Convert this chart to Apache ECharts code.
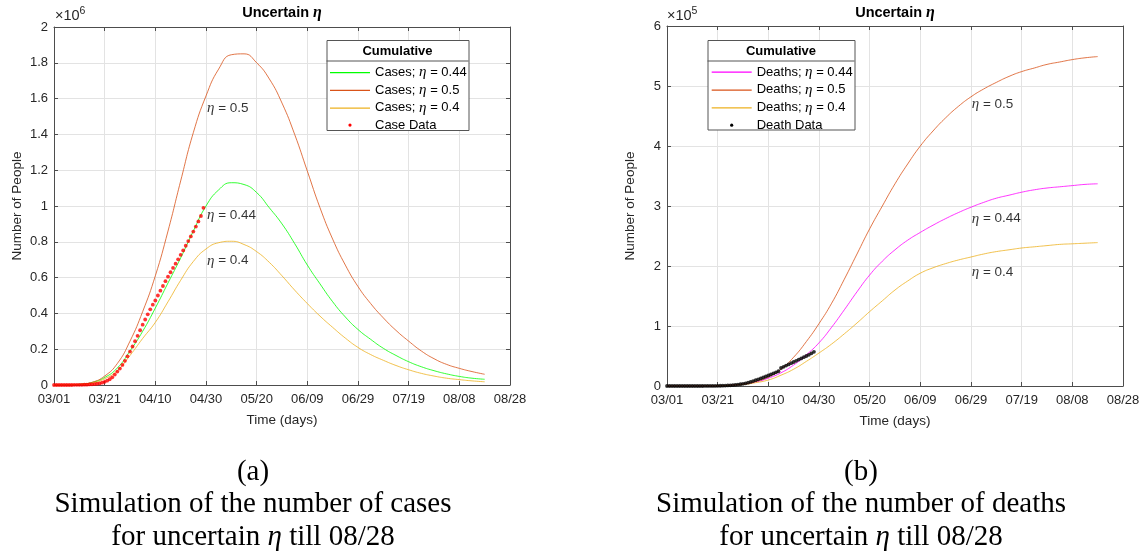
<!DOCTYPE html>
<html>
<head>
<meta charset="utf-8">
<title>Uncertain eta</title>
<script src="https://cdn.jsdelivr.net/npm/echarts@6.0.0/dist/echarts.min.js"></script>
<style>
    html, body { margin: 0; padding: 0; background: #fff; }
    #chart { width: 1145px; height: 556px; }
</style>
</head>
<body>
<div id="chart"></div>
<script>
// x values are days counted from 03/01
const xTickLabels = ['03/01', '03/21', '04/10', '04/30', '05/20', '06/09', '06/29', '07/19', '08/08', '08/28'];
const curveDays = [0, 5, 10, 15, 20, 25, 30, 35, 40, 45, 50, 55, 60, 65, 70, 75, 80, 85, 90, 95,
    100, 105, 110, 115, 120, 125, 130, 135, 140, 145, 150, 155, 160, 165, 170];

// cases, x10^6
const casesEta044 = [0, 0.001, 0.004, 0.014, 0.042, 0.095, 0.19, 0.30, 0.43, 0.57, 0.71, 0.86, 1.0, 1.09, 1.13, 1.12, 1.075, 0.99, 0.90, 0.79,
    0.67, 0.565, 0.465, 0.38, 0.31, 0.255, 0.205, 0.165, 0.13, 0.102, 0.08, 0.062, 0.048, 0.038, 0.032];
const casesEta05 = [0, 0.001, 0.004, 0.015, 0.05, 0.12, 0.245, 0.41, 0.61, 0.86, 1.14, 1.41, 1.615, 1.765, 1.845, 1.85, 1.80, 1.71, 1.575, 1.40,
    1.195, 0.99, 0.815, 0.67, 0.55, 0.455, 0.375, 0.305, 0.245, 0.19, 0.147, 0.115, 0.093, 0.075, 0.06];
const casesEta04 = [0, 0.001, 0.003, 0.01, 0.035, 0.08, 0.165, 0.26, 0.35, 0.465, 0.585, 0.69, 0.76, 0.795, 0.803, 0.785, 0.745, 0.685, 0.61, 0.53,
    0.455, 0.385, 0.322, 0.262, 0.21, 0.17, 0.138, 0.109, 0.085, 0.065, 0.05, 0.038, 0.03, 0.023, 0.018];
// daily case data from 03/01, x10^6
const caseData = [0, 0, 0, 0, 0, 0, 0, 0, 0.001, 0.001,
    0.001, 0.001, 0.002, 0.002, 0.003, 0.004, 0.005, 0.007, 0.009, 0.013,
    0.018, 0.024, 0.032, 0.043, 0.058, 0.075, 0.092, 0.112, 0.135, 0.16,
    0.187, 0.215, 0.245, 0.275, 0.306, 0.337, 0.366, 0.395, 0.423, 0.449,
    0.472, 0.5, 0.527, 0.553, 0.58, 0.605, 0.63, 0.654, 0.678, 0.702,
    0.727, 0.752, 0.778, 0.804, 0.83, 0.857, 0.885, 0.914, 0.944, 0.99];

// deaths, x10^5
const deathsEta044 = [0, 0, 0, 0.001, 0.003, 0.012, 0.03, 0.065, 0.13, 0.22, 0.35, 0.52, 0.72, 0.98, 1.27, 1.57, 1.85, 2.08, 2.27, 2.43,
    2.56, 2.68, 2.79, 2.89, 2.98, 3.06, 3.13, 3.18, 3.23, 3.27, 3.30, 3.32, 3.34, 3.36, 3.37];
const deathsEta05 = [0, 0, 0, 0.001, 0.004, 0.015, 0.035, 0.075, 0.15, 0.28, 0.48, 0.74, 1.04, 1.38, 1.78, 2.2, 2.62, 3.0, 3.37, 3.7,
    4.0, 4.25, 4.47, 4.66, 4.82, 4.95, 5.06, 5.16, 5.24, 5.30, 5.36, 5.40, 5.44, 5.47, 5.49];
const deathsEta04 = [0, 0, 0, 0.001, 0.003, 0.01, 0.025, 0.055, 0.1, 0.18, 0.28, 0.41, 0.55, 0.7, 0.87, 1.05, 1.24, 1.42, 1.6, 1.75,
    1.88, 1.97, 2.04, 2.1, 2.15, 2.2, 2.24, 2.27, 2.3, 2.32, 2.34, 2.36, 2.37, 2.38, 2.39];
// daily death data from 03/01, x10^5
const deathData = [0, 0, 0, 0, 0, 0, 0, 0, 0, 0,
    0, 0, 0, 0, 0, 0.001, 0.001, 0.001, 0.002, 0.002,
    0.003, 0.004, 0.005, 0.007, 0.009, 0.011, 0.014, 0.018, 0.023, 0.029,
    0.036, 0.045, 0.056, 0.068, 0.082, 0.097, 0.112, 0.127, 0.142, 0.158,
    0.175, 0.192, 0.21, 0.228, 0.246, 0.30, 0.32, 0.34, 0.36, 0.38,
    0.40, 0.42, 0.44, 0.46, 0.48, 0.50, 0.52, 0.545, 0.57];

const etaLabels = ['0.5', '0.44', '0.4'];

const sansFont = 'Liberation Sans';
const serifFont = 'Liberation Serif';
const axisColor = '#4d4d4d';
const textColor = '#262626';
const etaRich = { e: { fontFamily: serifFont, fontStyle: 'italic', fontSize: 15, color: '#000', lineHeight: 14 } };

const caseColors = ['#00ff00', '#d95319', '#edb120', '#ff0000'];
const deathColors = ['#ff00ff', '#d95319', '#edb120', '#000000'];

function pairs(days, values) {
    return values.map((v, i) => [days[i], v]);
}
function dailyPairs(values) {
    return values.map((v, day) => [day, v]);
}

function xAxes(gridIndex) {
    return [{
        type: 'value', gridIndex: gridIndex, min: 0, max: 180, interval: 20,
        name: 'Time (days)', nameLocation: 'middle', nameGap: 28,
        nameTextStyle: { fontFamily: sansFont, fontSize: 13.5, color: textColor },
        axisLine: { show: true, onZero: false, lineStyle: { color: axisColor, width: 1 } },
        axisTick: { show: true, inside: true, length: 4, lineStyle: { color: axisColor } },
        axisLabel: {
            fontFamily: sansFont, fontSize: 13, color: textColor, margin: 8,
            formatter: value => xTickLabels[Math.round(value / 20)]
        },
        splitLine: { show: true, lineStyle: { color: '#e3e3e3', width: 1 } }
    }, {
        type: 'value', gridIndex: gridIndex, position: 'top', min: 0, max: 180, interval: 20,
        axisLine: { show: true, onZero: false, lineStyle: { color: axisColor, width: 1 } },
        axisTick: { show: true, inside: true, length: 4, lineStyle: { color: axisColor } },
        axisLabel: { show: false },
        splitLine: { show: false }
    }];
}

function yAxes(gridIndex, max, interval) {
    return [{
        type: 'value', gridIndex: gridIndex, min: 0, max: max, interval: interval,
        name: 'Number of People', nameLocation: 'middle', nameGap: 30, nameRotate: 90,
        nameTextStyle: { fontFamily: sansFont, fontSize: 13.5, color: textColor },
        axisLine: { show: true, onZero: false, lineStyle: { color: axisColor, width: 1 } },
        axisTick: { show: true, inside: true, length: 4, lineStyle: { color: axisColor } },
        axisLabel: { fontFamily: sansFont, fontSize: 13, color: textColor, margin: 6 },
        splitLine: { show: true, lineStyle: { color: '#e3e3e3', width: 1 } }
    }, {
        type: 'value', gridIndex: gridIndex, position: 'right', min: 0, max: max, interval: interval,
        axisLine: { show: true, onZero: false, lineStyle: { color: axisColor, width: 1 } },
        axisTick: { show: true, inside: true, length: 4, lineStyle: { color: axisColor } },
        axisLabel: { show: false },
        splitLine: { show: false }
    }];
}

function curve(name, axisIndex, values, color) {
    return {
        type: 'line', name: name, xAxisIndex: axisIndex, yAxisIndex: axisIndex,
        data: pairs(curveDays, values), smooth: 0.5, symbol: 'none',
        lineStyle: { color: color, width: 0.8 }, itemStyle: { color: color }, z: 2
    };
}
function dots(name, axisIndex, values, color) {
    return {
        type: 'scatter', name: name, xAxisIndex: axisIndex, yAxisIndex: axisIndex,
        data: dailyPairs(values), symbolSize: 3.8, itemStyle: { color: color }, z: 3
    };
}
// eta = ... annotations, anchored at [day, value]
function tags(axisIndex, anchors) {
    return {
        type: 'scatter', xAxisIndex: axisIndex, yAxisIndex: axisIndex, silent: true,
        symbolSize: 0, z: 4,
        data: anchors.map((p, i) => ({ value: p, label: { formatter: '{e|η} = ' + etaLabels[i] } })),
        label: {
            show: true, position: 'right', distance: 0,
            fontFamily: sansFont, fontSize: 13.5, color: '#000', rich: etaRich
        }
    };
}

// legend icons drawn inside a 40x14 box: a thin line, and a tiny dot
const lineIcon = 'path://M0,0M40,0M40,14M0,14M0,6.5L40,6.5L40,7.8L0,7.8Z';
const dotIcon = 'path://M0,0M40,0M40,14M0,14M18.4,7a1.6,1.6 0 1,0 3.2,0a1.6,1.6 0 1,0 -3.2,0Z';

function legend(left, top, gap, names, colors) {
    return {
        orient: 'vertical', left: left, top: top, itemWidth: 40, itemHeight: 14, itemGap: gap,
        padding: 0, selectedMode: false, z: 6,
        data: names.map((n, i) => ({
            name: n, icon: i === 3 ? dotIcon : lineIcon,
            itemStyle: { color: colors[i], borderWidth: 0, opacity: 1 }
        })),
        formatter: name => name.replace('η', '{e|η}'),
        textStyle: { fontFamily: sansFont, fontSize: 13, color: '#000', lineHeight: 14, rich: etaRich }
    };
}

function legendBox(x, y, w, h, divY) {
    return [{
        type: 'rect', left: x, top: y, z: 5,
        shape: { width: w, height: h },
        style: { fill: '#fff', stroke: '#555', lineWidth: 1 }
    }, {
        type: 'line', z: 5,
        shape: { x1: x, y1: divY, x2: x + w, y2: divY },
        style: { stroke: '#555', lineWidth: 1 }
    }, {
        type: 'text', x: x + w / 2, y: (y + divY) / 2 + 0.5, z: 6,
        style: { text: 'Cumulative', fontFamily: sansFont, fontWeight: 'bold', fontSize: 13, fill: '#000', align: 'center', verticalAlign: 'middle' }
    }];
}

function exponent(x, power) {
    return {
        type: 'text', x: x, y: 16, z: 6,
        style: {
            text: '{a|×10}{s|' + power + '}', verticalAlign: 'middle',
            rich: {
                a: { fontFamily: sansFont, fontSize: 14.5, fill: textColor },
                s: { fontFamily: sansFont, fontSize: 10.5, fill: textColor, verticalAlign: 'top', padding: [0, 0, 9, 0] }
            }
        }
    };
}

function caption(cx, lines) {
    return lines.map((t, i) => ({
        type: 'text', x: cx, y: 472 + i * 32.5, z: 6,
        style: {
            text: t, fontFamily: serifFont, fontSize: 29, fill: '#000', align: 'center', verticalAlign: 'middle',
            rich: { e: { fontFamily: serifFont, fontStyle: 'italic', fontSize: 29, fill: '#000' } }
        }
    }));
}

const caseNames = ['Cases; η = 0.44', 'Cases; η = 0.5', 'Cases; η = 0.4', 'Case Data'];
const deathNames = ['Deaths; η = 0.44', 'Deaths; η = 0.5', 'Deaths; η = 0.4', 'Death Data'];

const titleStyle = { fontFamily: sansFont, fontWeight: 'bold', fontSize: 14.5, color: '#000', rich: { e: { fontFamily: serifFont, fontStyle: 'italic', fontWeight: 'bold', fontSize: 16, color: '#000' } } };

const option = {
    animation: false,
    backgroundColor: '#fff',
    title: [
        { text: 'Uncertain {e|η}', left: 282, top: 5, padding: 0, textAlign: 'center', textStyle: titleStyle },
        { text: 'Uncertain {e|η}', left: 895, top: 5, padding: 0, textAlign: 'center', textStyle: titleStyle }
    ],
    grid: [
        { left: 54, top: 27, width: 456, height: 358 },
        { left: 667, top: 26, width: 456, height: 360 }
    ],
    xAxis: xAxes(0).concat(xAxes(1)),
    yAxis: yAxes(0, 2, 0.2).concat(yAxes(1, 6, 1)),
    legend: [
        legend(330, 65, 2.7, caseNames, caseColors),
        legend(711.7, 64.5, 2.9, deathNames, deathColors)
    ],
    graphic: [].concat(
        legendBox(326.5, 40, 142, 90, 61),
        legendBox(707.5, 40, 147, 89.5, 61),
        [exponent(55, 6), exponent(667, 5)],
        caption(253, ['(a)', 'Simulation of the number of cases', 'for uncertain {e|η} till 08/28']),
        caption(861, ['(b)', 'Simulation of the number of deaths', 'for uncertain {e|η} till 08/28'])
    ),
    series: [
        curve(caseNames[0], 0, casesEta044, caseColors[0]),
        curve(caseNames[1], 0, casesEta05, caseColors[1]),
        curve(caseNames[2], 0, casesEta04, caseColors[2]),
        dots(caseNames[3], 0, caseData, caseColors[3]),
        tags(0, [[60.4, 1.547], [60.4, 0.95], [60.4, 0.694]]),
        curve(deathNames[0], 2, deathsEta044, deathColors[0]),
        curve(deathNames[1], 2, deathsEta05, deathColors[1]),
        curve(deathNames[2], 2, deathsEta04, deathColors[2]),
        dots(deathNames[3], 2, deathData, deathColors[3]),
        tags(2, [[120.3, 4.70], [120.3, 2.79], [120.3, 1.90]])
    ]
};

const myChart = echarts.init(document.getElementById('chart'));
myChart.setOption(option);
</script>
</body>
</html>
